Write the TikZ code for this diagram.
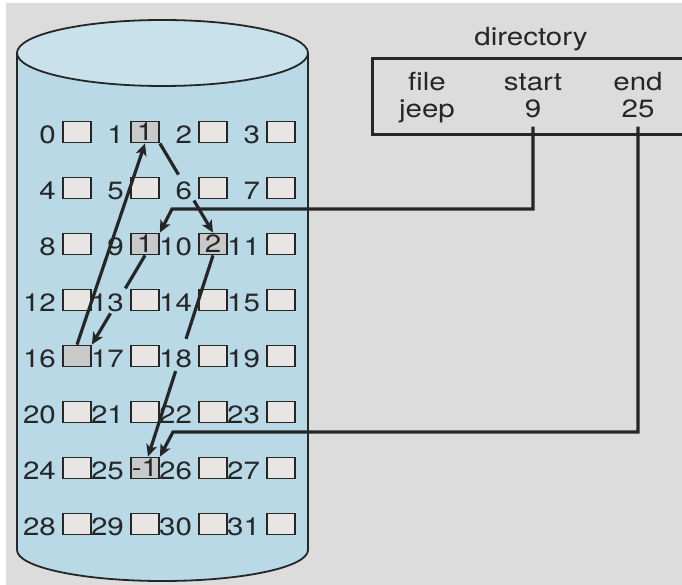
\documentclass[tikz,border=0pt]{standalone}
\usepackage{fontspec}
\setmainfont[FakeStretch=1.18]{TeX Gyre Heros}
\usetikzlibrary{arrows.meta,calc}
\definecolor{bg}{HTML}{DCDCDC}
\definecolor{disk}{HTML}{B9D9E7}
\definecolor{disktop}{HTML}{C9E1EB}
\definecolor{blk}{HTML}{E8E5E3}
\definecolor{used}{HTML}{C9C9C9}
\definecolor{ink}{HTML}{262626}

\begin{document}
\begin{tikzpicture}[x=1pt,y=-1pt,
  font=\fontsize{25}{27}\selectfont,
  every node/.style={text=ink},
  blkbox/.style={draw=ink, line width=1.8pt, fill=blk, minimum width=28pt,
    minimum height=21pt, inner sep=0pt},
  usedbox/.style={blkbox, fill=used},
  blklabel/.style={anchor=base east, inner sep=0pt},
  cell/.style={anchor=base, inner sep=0pt},
  link/.style={draw=ink, line width=3.2pt},
  linkarrow/.style={link, -{Stealth[length=12pt,width=11pt,inset=3pt]}},
]
\useasboundingbox (0,0) rectangle (682,585);
\clip (0,0) rectangle (682,585);
\fill[white] (0,0) rectangle (682,585);
\fill[bg] (6,3) rectangle (682,585);

% disk cylinder
\path[fill=disk, draw=ink, line width=1.8pt]
  (17,53) -- (17,550)
  arc[start angle=180, end angle=360, x radius=145.5pt, y radius=31pt]
  -- (308,53);
\draw[fill=disktop, draw=ink, line width=1.8pt]
  (162.5,53) ellipse [x radius=145.5pt, y radius=33pt];

% free blocks
\foreach \n in {0,2,3,4,5,6,7,8,11,12,13,14,15,17,18,19,20,21,22,23,24,26,27,28,29,30,31} {
  \pgfmathtruncatemacro\c{mod(\n,4)}
  \pgfmathtruncatemacro\r{div(\n,4)}
  \node[blkbox] (b\n) at (77+68*\c, 132+56*\r) {};
}
% blocks of file jeep
\node[usedbox] (b1)  at (145,132) {1};
\node[usedbox] (b9)  at (145,244) {1};
\node[usedbox] (b10) at (213,244) {2};
\node[usedbox] (b16) at (77,356)  {};
\node[usedbox] (b25) at (145,468) {-1};

% block numbers
\foreach \n in {0,...,31} {
  \node[blklabel] (l\n) at ([xshift=-6pt]b\n.south west) {\n};
}

% directory entry
\node[draw=ink, line width=2.8pt, minimum width=360pt, minimum height=76pt,
  anchor=north west, inner sep=0pt] (dir) at (371,57) {};
\node[cell] (title) at (531,46) {directory};
\node[cell] (hfile)  at (427,91) {file};
\node[cell] (hstart) at (533,91) {start};
\node[cell] (hend)   at (638,91) {end};
\node[cell] (fname)  at (427,118) {jeep};
\node[cell] (s9)     at (533,118) {9};
\node[cell] (e25)    at (638,118) {25};

% linked chain 9 -> 16 -> 1 -> 10 -> 25
\draw[link] (b9.south) -- ($(b9.south)!0.37!(b16.north east)$);
\draw[linkarrow] ($(b9.south)!0.65!(b16.north east)$) -- (b16.north east);
\draw[linkarrow] (b16.north) -- (b1.south);
\draw[link] (b1.south east) -- ($(b1.south east)!0.35!(b10.north)$);
\draw[linkarrow] ($(b1.south east)!0.64!(b10.north)$) -- (b10.north);
\draw[link] (b10.south) -- ($(b10.south)!0.415!([xshift=3pt]b25.north)$);
\draw[linkarrow] ($(b10.south)!0.575!([xshift=3pt]b25.north)$) -- ([xshift=3pt]b25.north);

% pointers from the directory
\coordinate (jstart) at (172,209);
\coordinate (jend) at (173,432);
\draw[linkarrow] ([yshift=-8pt]s9.south) |- (jstart) -- (b9.north east);
\draw[linkarrow] ([yshift=-8pt]e25.south) |- (jend) -- (b25.north east);
\end{tikzpicture}
\end{document}
